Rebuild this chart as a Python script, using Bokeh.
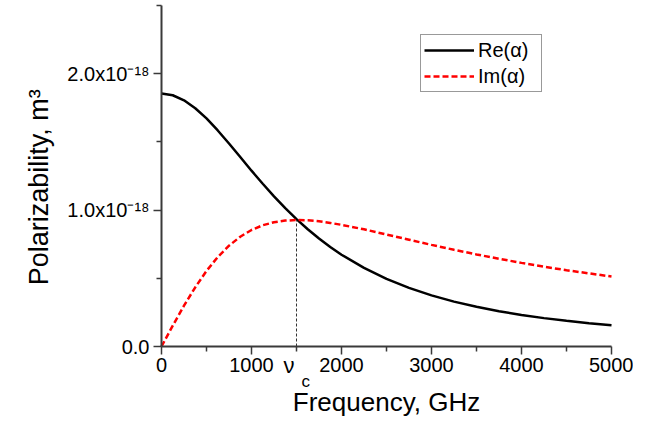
from bokeh.plotting import figure
from bokeh.models import FixedTicker, Legend, LegendItem, Label
from bokeh.embed import file_html
from bokeh.resources import INLINE

# Frequency in GHz
freq = [0, 125, 250, 375, 500, 625, 750, 875, 1000, 1125, 1250, 1375, 1500, 1625, 1750, 1875,
        2000, 2250, 2500, 2750, 3000, 3250, 3500, 3750, 4000, 4250, 4500, 4750, 5000]
# Polarizability in units of 1e-18 m^3
re_alpha = [1.855, 1.842, 1.805, 1.747, 1.672, 1.584, 1.488, 1.389, 1.289, 1.193, 1.101, 1.014,
            0.934, 0.860, 0.792, 0.730, 0.673, 0.576, 0.496, 0.430, 0.375, 0.329, 0.291,
            0.259, 0.231, 0.208, 0.188, 0.170, 0.155]
im_alpha = [0.0, 0.153, 0.299, 0.434, 0.554, 0.656, 0.739, 0.805, 0.854, 0.889, 0.911, 0.923,
            0.927, 0.925, 0.918, 0.906, 0.892, 0.859, 0.821, 0.783, 0.745, 0.709, 0.675,
            0.643, 0.613, 0.585, 0.559, 0.536, 0.513]

nu_c = 1500
nu_c_value = 0.927

x_ticks = [0, 1000, 2000, 3000, 4000, 5000]
x_minor = [500, 1500, 2500, 3500, 4500]
y_ticks = [0, 1, 2]
y_minor = [0.5, 1.5, 2.5]
y_tick_labels = {0: "0.0", 1: "1.0x10\u207b\u00b9\u2078", 2: "2.0x10\u207b\u00b9\u2078"}

FONT = "Liberation Sans"
AXIS_COLOR = "#3a3a3a"

# The frame covers the whole canvas; both axes are pinned at 0 inside it so that
# the annotations beside them (nu_c label) are not clipped.
p = figure(width=633, height=416, output_backend="svg", toolbar_location=None,
           x_range=(-1788.9, 5244.4), y_range=(-0.5132, 2.5367),
           min_border_left=0, min_border_right=0, min_border_top=0, min_border_bottom=0)
p.outline_line_color = None
p.xgrid.visible = False
p.ygrid.visible = False
p.background_fill_color = "white"
p.border_fill_color = "white"

r_re = p.line(freq, re_alpha, line_color="black", line_width=2.5)
r_im = p.line(freq, im_alpha, line_color="#ff0000", line_width=2.5, line_dash="6 3")
p.segment(x0=[nu_c], y0=[0], x1=[nu_c], y1=[nu_c_value], line_color="#333333",
          line_width=1, line_dash="3 2")

for ax in (p.xaxis[0], p.yaxis[0]):
    ax.axis_line_color = AXIS_COLOR
    ax.axis_line_width = 2
    ax.major_tick_line_color = AXIS_COLOR
    ax.minor_tick_line_color = AXIS_COLOR
    ax.major_tick_line_width = 1.5
    ax.minor_tick_line_width = 1.5
    ax.major_tick_out = 8
    ax.major_tick_in = 0
    ax.minor_tick_out = 5
    ax.minor_tick_in = 0
    ax.major_label_text_font = FONT
    ax.major_label_text_font_size = "20px"
    ax.major_label_text_color = "black"
    ax.axis_label_text_font = FONT
    ax.axis_label_text_font_size = "26px"
    ax.axis_label_text_font_style = "normal"
    ax.axis_label_text_color = "black"

p.xaxis.ticker = FixedTicker(ticks=x_ticks, minor_ticks=x_minor)
p.yaxis.ticker = FixedTicker(ticks=y_ticks, minor_ticks=y_minor)
p.xaxis.fixed_location = 0
p.yaxis.fixed_location = 0
p.xaxis.bounds = (0, 5000)
p.yaxis.bounds = (0, 2.5)
p.yaxis.major_label_overrides = y_tick_labels
p.xaxis.axis_label = "Frequency, GHz"
# trailing no-break spaces nudge the rotated title a little lower, as in the original
p.yaxis.axis_label = "Polarizability, m\u00b3\u00a0\u00a0\u00a0"
p.yaxis.axis_label_text_font_size = "27px"
p.xaxis.major_label_standoff = 3
p.yaxis.major_label_standoff = 4
p.xaxis.axis_label_standoff = 12
p.yaxis.axis_label_standoff = 10

p.add_layout(Label(x=nu_c, y=0, x_units="data", y_units="data", text="\u03bd",
                   text_align="right", text_baseline="alphabetic",
                   x_offset=-2, y_offset=-19, text_font=FONT, text_font_size="22px",
                   text_color="black"))
p.add_layout(Label(x=nu_c, y=0, x_units="data", y_units="data", text="c",
                   text_align="left", text_baseline="alphabetic",
                   x_offset=5, y_offset=-35, text_font=FONT, text_font_size="17px",
                   text_color="black"))

legend = Legend(items=[LegendItem(label="Re(\u03b1)", renderers=[r_re]),
                       LegendItem(label="Im(\u03b1)", renderers=[r_im])],
                location=(420, 324))
legend.label_text_font = FONT
legend.label_text_font_size = "20px"
legend.label_text_color = "black"
legend.glyph_width = 50
legend.glyph_height = 24
legend.label_height = 24
legend.label_width = 60
legend.label_standoff = 4
legend.spacing = 2
legend.padding = 3
legend.margin = 0
legend.border_line_color = "#333333"
legend.border_line_width = 1
legend.background_fill_alpha = 1
p.add_layout(legend)

open("out.html", "w").write(file_html(p, INLINE))
